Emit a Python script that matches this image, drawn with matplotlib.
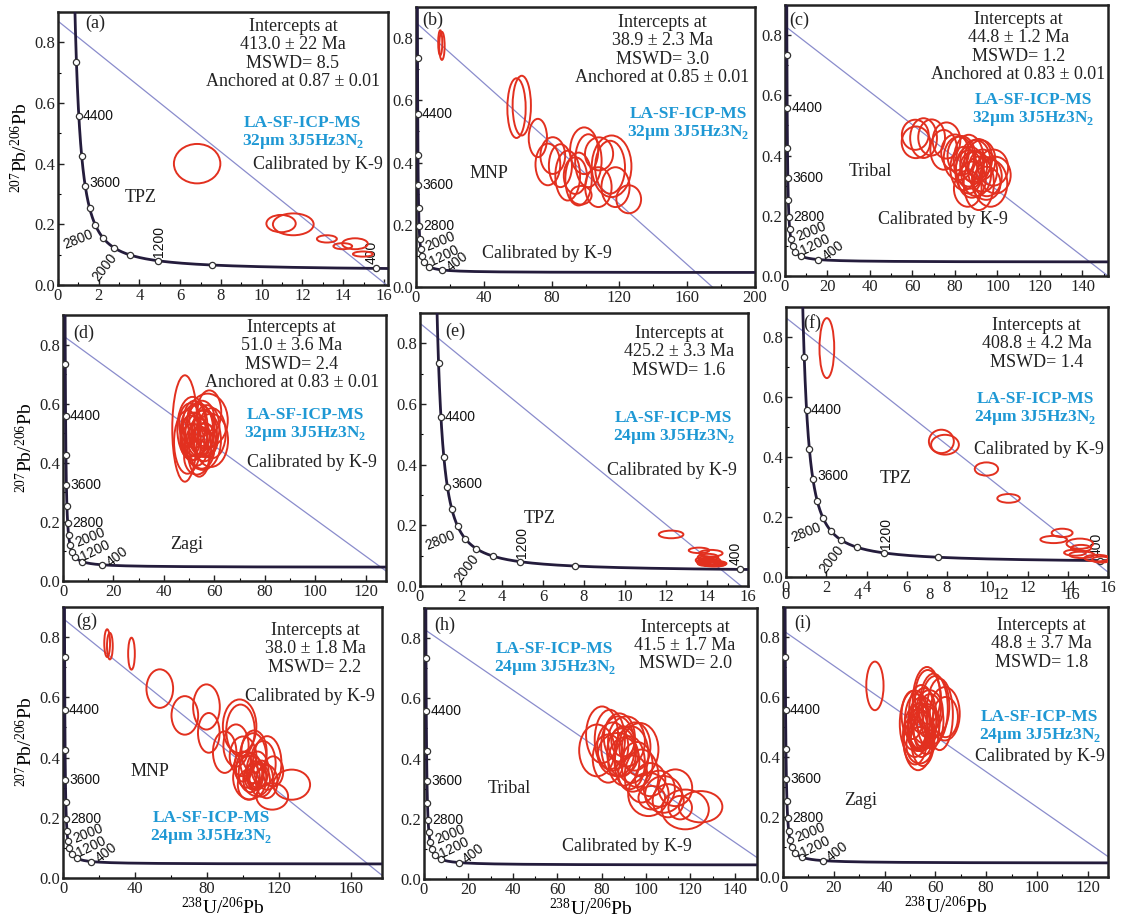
import numpy as np
import matplotlib.pyplot as plt
from matplotlib.patches import Ellipse
from matplotlib.ticker import MultipleLocator

plt.rcParams['font.family'] = ['Liberation Serif', 'DejaVu Serif']
plt.rcParams['mathtext.fontset'] = 'custom'
plt.rcParams['mathtext.rm'] = 'Liberation Serif'
plt.rcParams['mathtext.bf'] = 'Liberation Serif:bold'

# decay constants (1/Ma) and present-day 238U/235U
L238 = 1.55125e-4
L235 = 9.8485e-4
U_RATIO = 137.88

# intercept results for panels (a)-(i)
intercept_age = [413.0, 38.9, 44.8, 51.0, 425.2, 408.8, 38.0, 41.5, 48.8]
intercept_err = ['22', '2.3', '1.2', '3.6', '3.3', '4.2', '1.8', '1.7', '3.7']
mswd = ['8.5', '3.0', '1.2', '2.4', '1.6', '1.4', '2.2', '2.0', '1.8']
anchor = ['0.87', '0.85', '0.83', '0.83', None, None, None, None, None]
upper_pb = [0.87, 0.85, 0.83, 0.83, 0.866, 0.864, 0.862, 0.83, 0.822]
spot = ['32', '32', '32', '32', '24', '24', '24', '24', '24']
region = ['TPZ', 'MNP', 'Tribal', 'Zagi', 'TPZ', 'TPZ', 'MNP', 'Tribal', 'Zagi']
tags = ['(a)', '(b)', '(c)', '(d)', '(e)', '(f)', '(g)', '(h)', '(i)']

# concordia age marks (Ma)
mark_ages = [400, 800, 1200, 1600, 2000, 2400, 2800, 3200, 3600, 4000, 4400, 4800]
label_ages = [400, 1200, 2000, 2800, 3600, 4400]

# analyses: 238U/206Pb, 207Pb/206Pb and their 2-sigma half widths
a_x = [6.83, 10.95, 11.55, 13.2, 13.98, 14.58, 14.97]
a_y = [0.40, 0.2025, 0.20, 0.152, 0.128, 0.136, 0.102]
a_sx = [1.14, 0.72, 1.0, 0.49, 0.46, 0.63, 0.49]
a_sy = [0.065, 0.0285, 0.036, 0.012, 0.010, 0.018, 0.0085]

b_x = [14.3, 15.3, 59.3, 62.4, 71.9, 77.8, 80.7, 85.2, 89.5, 95.9, 99.2, 101.7,
       94.0, 107.6, 115.4, 114.5, 117.7, 125.5, 108.0, 97.3]
b_y = [0.785, 0.775, 0.575, 0.583, 0.479, 0.394, 0.4225, 0.39, 0.358, 0.347, 0.438, 0.406,
       0.358, 0.321, 0.388, 0.385, 0.321, 0.282, 0.428, 0.295]
b_sx = [1.2, 1.6, 5.4, 5.4, 5.4, 7.3, 7.3, 6.8, 7.3, 7.8, 8.3, 7.8,
        6.8, 7.8, 11.7, 8.8, 8.3, 7.3, 8.3, 6.3]
b_sy = [0.04, 0.045, 0.096, 0.096, 0.0615, 0.067, 0.059, 0.069, 0.08, 0.085, 0.075, 0.085,
        0.059, 0.064, 0.099, 0.085, 0.064, 0.045, 0.053, 0.03]

c_x = [61.6, 65.2, 61.3, 74.7, 81.8, 86.5, 86.5, 91.2, 96.7, 89.6, 84.1, 99.1, 92.3, 94.7, 88.8,
       83, 87, 90, 93, 88, 95, 80, 86, 91, 98, 76, 69]
c_y = [0.444, 0.458, 0.469, 0.419, 0.391, 0.383, 0.346, 0.308, 0.308, 0.380, 0.357, 0.335,
       0.385, 0.308, 0.363, 0.40, 0.36, 0.34, 0.35, 0.32, 0.33, 0.41, 0.29, 0.39, 0.36, 0.45, 0.46]
c_sx = [6.7, 6.3, 6.3, 6.3, 7.1, 7.1, 6.3, 7.1, 7.9, 7.1, 6.3, 7.1, 6.7, 6.7, 6.3,
        6.5, 6.5, 7, 6.8, 6.5, 7, 6.5, 6.5, 6.5, 7, 6.5, 6.3]
c_sy = [0.0526, 0.066, 0.05, 0.066, 0.072, 0.086, 0.072, 0.089, 0.078, 0.072, 0.072, 0.061,
        0.066, 0.055, 0.05, 0.065, 0.07, 0.075, 0.07, 0.06, 0.065, 0.06, 0.06, 0.065, 0.06,
        0.06, 0.06]

d_x = [48.3, 51.3, 49.3, 53.3, 55.3, 57.3, 58.7, 58.0, 54.0, 51.3, 56.0, 50.3,
       52, 54, 56, 53, 55, 57, 52, 54, 56, 50.5, 59, 55, 53]
d_y = [0.516, 0.516, 0.47, 0.51, 0.476, 0.544, 0.476, 0.572, 0.453, 0.47, 0.476, 0.533,
       0.49, 0.51, 0.50, 0.46, 0.45, 0.52, 0.53, 0.49, 0.47, 0.49, 0.50, 0.55, 0.42]
d_sx = [5.0, 6.0, 5.3, 6.7, 7.3, 8.0, 6.7, 4.7, 4.7, 4.7, 5.3, 4.3,
        5, 5.5, 5, 4.5, 5, 5, 4.5, 4, 4.5, 4, 5.5, 5, 5]
d_sy = [0.18, 0.107, 0.107, 0.09, 0.10, 0.09, 0.09, 0.073, 0.10, 0.062, 0.056, 0.068,
        0.08, 0.09, 0.08, 0.07, 0.07, 0.075, 0.08, 0.06, 0.065, 0.07, 0.085, 0.06, 0.06]

e_x = [12.25, 13.61, 14.19, 13.9, 14.0, 14.1, 14.2, 14.3, 14.35, 14.15, 14.05, 14.5, 14.0]
e_y = [0.170, 0.1175, 0.108, 0.085, 0.080, 0.078, 0.076, 0.075, 0.072, 0.083, 0.095, 0.074, 0.074]
e_sx = [0.6, 0.5, 0.57, 0.45, 0.5, 0.55, 0.5, 0.5, 0.55, 0.5, 0.5, 0.45, 0.45]
e_sy = [0.0126, 0.009, 0.011, 0.012, 0.011, 0.010, 0.010, 0.009, 0.008, 0.012, 0.011, 0.008, 0.008]

f_x = [2.03, 7.72, 7.9, 9.96, 11.06, 13.72, 13.3, 14.6, 14.66, 14.36, 14.7, 15.45, 15.66]
f_y = [0.763, 0.452, 0.441, 0.36, 0.262, 0.147, 0.125, 0.111, 0.096, 0.081, 0.074, 0.063, 0.058]
f_sx = [0.366, 0.62, 0.69, 0.58, 0.56, 0.52, 0.66, 0.66, 0.5, 0.54, 0.62, 0.62, 0.45]
f_sy = [0.10, 0.039, 0.033, 0.022, 0.0145, 0.014, 0.012, 0.017, 0.011, 0.010, 0.011, 0.011, 0.010]

g_x = [24.5, 26.0, 38.0, 53.7, 67.6, 79.6, 80.9, 98.0, 98.5, 89.7, 99.9, 105.5, 113.3,
       103.7, 107.4, 106.5, 107.8, 116.1, 126.9, 116.6, 105.0,
       102, 104, 108, 110, 103, 111, 96, 106, 100, 113]
g_y = [0.78, 0.77, 0.745, 0.629, 0.540, 0.568, 0.482, 0.504, 0.49, 0.418, 0.404, 0.398, 0.382,
       0.333, 0.327, 0.341, 0.336, 0.271, 0.310, 0.354, 0.336,
       0.36, 0.35, 0.36, 0.33, 0.31, 0.38, 0.44, 0.42, 0.37, 0.32]
g_sx = [1.6, 1.6, 1.85, 7.4, 7.4, 7.4, 6.0, 9.3, 7.9, 6.5, 7.4, 7.4, 7.9,
        9.3, 7.4, 4.6, 5.0, 8.8, 10.2, 5.6, 4.2,
        6, 6.5, 6, 6.5, 6, 7, 7, 7, 5, 6]
g_sy = [0.046, 0.044, 0.053, 0.064, 0.064, 0.075, 0.066, 0.089, 0.086, 0.069, 0.066, 0.083, 0.089,
        0.072, 0.055, 0.047, 0.042, 0.044, 0.05, 0.05, 0.042,
        0.06, 0.065, 0.06, 0.06, 0.05, 0.075, 0.07, 0.07, 0.05, 0.055]

h_x = [77.9, 80.2, 83.7, 87.4, 91.2, 93.5, 97.3, 87.4, 92.7, 98.0, 101.1, 107.9, 113.2,
       117.7, 124.6, 115.4, 101.9, 89.7, 102.6,
       85, 89, 95, 90, 96, 83, 106, 110, 94, 88]
h_y = [0.427, 0.479, 0.463, 0.441, 0.457, 0.413, 0.43, 0.413, 0.386, 0.342, 0.281, 0.281, 0.303,
       0.231, 0.240, 0.237, 0.33, 0.457, 0.27,
       0.44, 0.42, 0.44, 0.39, 0.38, 0.40, 0.30, 0.26, 0.35, 0.47]
h_sx = [8.0, 7.2, 6.8, 7.6, 8.3, 7.6, 8.3, 9.1, 6.8, 7.6, 9.1, 8.3, 7.6,
        10.6, 9.8, 5.3, 6.8, 5.3, 6.0,
        7, 6.5, 7, 7, 7, 7, 7, 7, 6.5, 7]
h_sy = [0.086, 0.094, 0.099, 0.099, 0.083, 0.094, 0.088, 0.072, 0.088, 0.088, 0.072, 0.061, 0.061,
        0.066, 0.052, 0.039, 0.055, 0.05, 0.039,
        0.08, 0.08, 0.08, 0.08, 0.075, 0.08, 0.06, 0.055, 0.06, 0.08]

i_x = [36.2, 51.9, 53.2, 56.7, 59.3, 61.7, 63.7, 54.8, 54.5, 51.9, 57.7, 53.8, 64.0, 56.1,
       52.5, 54, 55.5, 53, 56.5, 52, 55, 58, 54.5, 51, 60, 57]
i_y = [0.637, 0.511, 0.467, 0.583, 0.561, 0.542, 0.544, 0.511, 0.478, 0.478, 0.556, 0.439,
       0.533, 0.511, 0.52, 0.50, 0.53, 0.49, 0.49, 0.45, 0.46, 0.52, 0.56, 0.54, 0.57, 0.60]
i_sx = [3.4, 5.9, 5.9, 5.6, 5.6, 5.2, 5.9, 5.6, 4.6, 4.6, 5.2, 5.2, 4.9, 5.6,
        4.5, 4.5, 5, 4, 5, 4.5, 4.6, 5.2, 4.8, 4.3, 5.5, 5]
i_sy = [0.081, 0.111, 0.111, 0.117, 0.117, 0.119, 0.089, 0.089, 0.078, 0.056, 0.067, 0.061,
        0.067, 0.067, 0.09, 0.08, 0.1, 0.07, 0.08, 0.075, 0.09, 0.09, 0.08, 0.08, 0.1, 0.09]

spots = [(a_x, a_y, a_sx, a_sy), (b_x, b_y, b_sx, b_sy), (c_x, c_y, c_sx, c_sy),
         (d_x, d_y, d_sx, d_sy), (e_x, e_y, e_sx, e_sy), (f_x, f_y, f_sx, f_sy),
         (g_x, g_y, g_sx, g_sy), (h_x, h_y, h_sx, h_sy), (i_x, i_y, i_sx, i_sy)]

# axis ranges and tick steps
xmax = [16.2, 200, 152, 128, 16, 16, 177, 150, 128]
xstep = [2, 40, 20, 20, 2, 2, 40, 20, 20]

# axes boxes in pixels: left, top, right, bottom
boxes = [(58, 12, 388, 285), (416, 7, 755, 287), (785, 5, 1108, 276),
         (63, 315, 386, 581), (420, 313, 748, 586), (786, 307, 1108, 577),
         (63, 607, 382, 878), (424, 608, 757, 879), (783, 607, 1108, 877)]

# text placement (axes fractions): tag, stats, method, calibration, region
text_pos = [
    ((0.112, 0.96), (0.712, 0.978), (0.742, 0.623), (0.788, 0.443), (0.252, 0.322)),
    ((0.05, 0.954), (0.727, 0.975), (0.803, 0.646), (0.385, 0.12), (0.215, 0.405)),
    ((0.043, 0.945), (0.722, 0.978), (0.769, 0.679), (0.49, 0.207), (0.263, 0.385)),
    ((0.063, 0.931), (0.708, 0.985), (0.749, 0.654), (0.77, 0.446), (0.383, 0.139)),
    ((0.107, 0.932), (0.79, 0.956), (0.774, 0.645), (0.767, 0.422), (0.366, 0.248)),
    ((0.08, 0.94), (0.779, 0.963), (0.773, 0.689), (0.784, 0.473), (0.342, 0.366)),
    ((0.076, 0.946), (0.79, 0.945), (0.466, 0.251), (0.774, 0.669), (0.273, 0.392)),
    ((0.062, 0.937), (0.784, 0.96), (0.393, 0.878), (0.608, 0.121), (0.256, 0.333)),
    ((0.06, 0.94), (0.795, 0.963), (0.79, 0.622), (0.79, 0.446), (0.24, 0.285)),
]

# concordia label offsets (points), rotation, alignment
narrow_lbl = {4400: (3, 0, 0, 'left'), 3600: (3, 2, 0, 'left'), 2800: (-2, -6, 22, 'right'),
              2000: (0, -5, 52, 'right'), 1200: (1, 3, 90, 'left'), 400: (-3, 3, 90, 'left')}
wide_lbl = {4400: (3, 0, 0, 'left'), 3600: (3, 0, 0, 'left'), 2800: (3, 0, 0, 'left'),
            2000: (4, 1, 22, 'left'), 1200: (4, 0, 26, 'left'), 400: (4, 1, 38, 'left')}

RED = '#e2301f'
BLUE = '#1e98d4'
CURVE = '#241c3c'
LINE = '#8a8ccc'
W, H = 1126, 919


def tera_wasserburg(t):
    e8 = np.expm1(L238 * np.asarray(t, dtype=float))
    e5 = np.expm1(L235 * np.asarray(t, dtype=float))
    return 1.0 / e8, e5 / (U_RATIO * e8)


fig = plt.figure(figsize=(W / 100, H / 100), dpi=100)
curve_t = np.concatenate([np.linspace(5, 400, 800), np.linspace(400, 5300, 1500)])
cx, cy = tera_wasserburg(curve_t)

for k in range(9):
    l, t, r, b = boxes[k]
    ax = fig.add_axes([l / W, 1 - b / H, (r - l) / W, (b - t) / H])
    ax.set_xlim(0, xmax[k])
    ax.set_ylim(0, 0.9)
    narrow = xmax[k] < 20

    # concordia curve with age marks
    ax.plot(cx, cy, color=CURVE, lw=2.0, zorder=3)
    mx, my = tera_wasserburg(mark_ages)
    ax.plot(mx, my, 'o', ms=4.5, mfc='white', mec='#333333', mew=0.9, zorder=4)
    lbl = narrow_lbl if narrow else wide_lbl
    for age in label_ages:
        px, py = tera_wasserburg(age)
        dx, dy, rot, ha = lbl[age]
        ax.annotate(str(age), (px, py), xytext=(dx, dy), textcoords='offset points',
                    rotation=rot, rotation_mode='anchor', ha=ha, va='center',
                    fontsize=10, family='Liberation Sans', color='#111111', zorder=5)

    # discordia line
    lx, ly = tera_wasserburg(intercept_age[k])
    xs = np.array([0, xmax[k]])
    ax.plot(xs, upper_pb[k] + (ly - upper_pb[k]) / lx * xs, color=LINE, lw=0.9, zorder=2)

    # error ellipses
    ex, ey, sx, sy = spots[k]
    for x0, y0, wx, wy in zip(ex, ey, sx, sy):
        ax.add_patch(Ellipse((x0, y0), 2 * wx, 2 * wy, fill=False, ec=RED, lw=1.4, zorder=6))

    # annotations
    tag_p, stat_p, meth_p, cal_p, reg_p = text_pos[k]
    stats = f'Intercepts at\n{intercept_age[k]:.1f} ± {intercept_err[k]} Ma\nMSWD= {mswd[k]}'
    if anchor[k]:
        stats += f'\nAnchored at {anchor[k]} ± 0.01'
    ax.text(*stat_p, stats, transform=ax.transAxes, ha='center', va='top',
            fontsize=13, linespacing=1.1, color='#222222', zorder=7)
    ax.text(*meth_p, f'LA-SF-ICP-MS\n{spot[k]}µm 3J5Hz3N$_\\mathbf{{2}}$', transform=ax.transAxes,
            ha='center', va='top', fontsize=12.5, fontweight='bold', linespacing=1.1,
            color=BLUE, zorder=7)
    ax.text(*cal_p, 'Calibrated by K-9', transform=ax.transAxes, ha='center', va='center',
            fontsize=13, color='#222222', zorder=7)
    ax.text(*reg_p, region[k], transform=ax.transAxes, ha='center', va='center',
            fontsize=13, color='#222222', zorder=7)
    ax.text(*tag_p, tags[k], transform=ax.transAxes, ha='center', va='center',
            fontsize=13, color='#222222', zorder=7)

    # axes styling
    ax.xaxis.set_major_locator(MultipleLocator(xstep[k]))
    ax.xaxis.set_minor_locator(MultipleLocator(xstep[k] / 2))
    ax.yaxis.set_major_locator(MultipleLocator(0.2))
    ax.yaxis.set_minor_locator(MultipleLocator(0.1))
    ax.yaxis.set_major_formatter(plt.FormatStrFormatter('%.1f'))
    ax.tick_params(which='major', direction='in', length=4, width=1, labelsize=12, pad=2,
                   colors='#222222')
    ax.tick_params(which='minor', direction='in', length=2.5, width=0.8)
    for s in ax.spines.values():
        s.set_linewidth(1.8)
        s.set_color('#222222')

    if k in (0, 3, 6):
        ax.set_ylabel(r'$\mathregular{^{207}Pb/^{206}Pb}$', fontsize=14, labelpad=2)
    if k >= 6:
        ax.set_xlabel(r'$\mathregular{^{238}U/^{206}Pb}$', fontsize=14, labelpad=0)

    if k == 5:
        # second set of scale numbers printed under panel (f)
        ax2 = ax.twiny()
        ax2.set_xlim(0, 18)
        ax2.xaxis.set_ticks_position('bottom')
        ax2.xaxis.set_major_locator(MultipleLocator(4))
        ax2.tick_params(length=0, labelsize=12, pad=7, colors='#222222')
        for s in ax2.spines.values():
            s.set_visible(False)

fig.savefig('out.png', dpi=100, facecolor='white')
